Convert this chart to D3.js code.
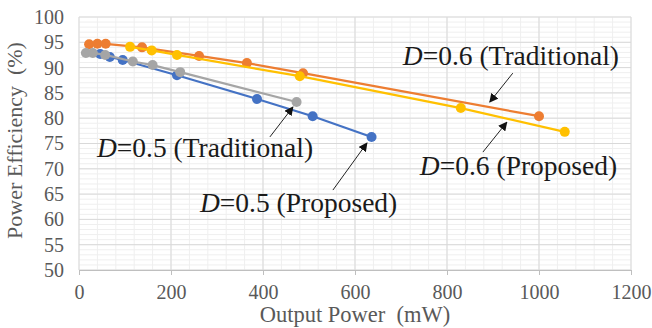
<!DOCTYPE html>
<html>
<head>
<meta charset="utf-8">
<script src="https://cdn.jsdelivr.net/npm/d3@7"></script>
<style>
  body { margin: 0; background: #fff; }
  svg { display: block; font-family: "Liberation Serif", "Times New Roman", serif; }
</style>
</head>
<body>
<div id="chart"></div>
<script>
// data
const trad06X = [22, 40, 58, 137, 261, 365, 487, 1000];
const trad06Y = [94.6, 94.7, 94.7, 94.0, 92.3, 90.9, 88.9, 80.4];
const prop06X = [111, 158, 213, 480, 830, 1056];
const prop06Y = [94.1, 93.4, 92.5, 88.3, 82.0, 77.3];
const trad05X = [15, 30, 57, 117, 160, 220, 473];
const trad05Y = [92.9, 92.9, 92.5, 91.2, 90.5, 89.1, 83.2];
const prop05X = [46, 67, 95, 213, 387, 508, 636];
const prop05Y = [92.7, 92.1, 91.5, 88.5, 83.8, 80.4, 76.3];

const xTicks = [0, 200, 400, 600, 800, 1000, 1200];
const yTicks = [50, 55, 60, 65, 70, 75, 80, 85, 90, 95, 100];

const seriesList = [
  { name: "D=0.5 (Proposed)", xs: prop05X, ys: prop05Y, color: "#4472c4" },
  { name: "D=0.6 (Traditional)", xs: trad06X, ys: trad06Y, color: "#ed7d31" },
  { name: "D=0.5 (Traditional)", xs: trad05X, ys: trad05Y, color: "#a5a5a5" },
  { name: "D=0.6 (Proposed)", xs: prop06X, ys: prop06Y, color: "#ffc000" }
];

// annotation labels: [D value, tag, text x, text y, arrow from x,y, arrow to x,y] in data units
const notes = [
  ["0.6", "Traditional", 704, 90.5, 943, 88.9, 893, 83.2],
  ["0.5", "Traditional", 39, 72.3, 415, 76.3, 465, 82.2],
  ["0.5", "Proposed", 263, 61.5, 552, 65.8, 626, 75.1],
  ["0.6", "Proposed", 741, 68.8, 878, 73.3, 930, 79.2]
];

const width = 652, height = 328;
const margin = { top: 17, right: 21, bottom: 58, left: 79 };

const svg = d3.select("#chart").append("svg")
  .attr("width", width)
  .attr("height", height);

const x = d3.scaleLinear().domain([0, 1200]).range([margin.left, width - margin.right]);
const y = d3.scaleLinear().domain([50, 100]).range([height - margin.bottom, margin.top]);

// minor grid
svg.append("g").selectAll("line")
  .data(d3.range(0, 1201, 40))
  .enter().append("line")
  .attr("x1", d => x(d)).attr("x2", d => x(d))
  .attr("y1", y(50)).attr("y2", y(100))
  .attr("stroke", "#efefef").attr("stroke-width", 1);
svg.append("g").selectAll("line")
  .data(d3.range(50, 100.1, 1))
  .enter().append("line")
  .attr("x1", x(0)).attr("x2", x(1200))
  .attr("y1", d => y(d)).attr("y2", d => y(d))
  .attr("stroke", "#efefef").attr("stroke-width", 1);

// major grid
svg.append("g").selectAll("line")
  .data(xTicks)
  .enter().append("line")
  .attr("x1", d => x(d)).attr("x2", d => x(d))
  .attr("y1", y(50)).attr("y2", y(100))
  .attr("stroke", "#d9d9d9").attr("stroke-width", 1);
svg.append("g").selectAll("line")
  .data(yTicks)
  .enter().append("line")
  .attr("x1", x(0)).attr("x2", x(1200))
  .attr("y1", d => y(d)).attr("y2", d => y(d))
  .attr("stroke", "#d9d9d9").attr("stroke-width", 1);

// axes
const xAxis = svg.append("g")
  .attr("transform", `translate(0,${y(50)})`)
  .call(d3.axisBottom(x).tickValues(xTicks).tickFormat(d3.format("d")).tickSize(5).tickPadding(10));
const yAxis = svg.append("g")
  .attr("transform", `translate(${x(0)},0)`)
  .call(d3.axisLeft(y).tickValues(yTicks).tickFormat(d3.format("d")).tickSize(0).tickPadding(15));
[xAxis, yAxis].forEach(a => {
  a.attr("font-family", "'Liberation Serif', serif").attr("font-size", 20);
  a.select(".domain").attr("stroke", "#bfbfbf");
  a.selectAll(".tick line").attr("stroke", "#bfbfbf");
  a.selectAll("text").attr("fill", "#595959");
});
yAxis.select(".domain").remove();

// axis titles
svg.append("text")
  .attr("x", x(600))
  .attr("y", height - 6)
  .attr("text-anchor", "middle")
  .attr("font-size", 22.5)
  .attr("fill", "#595959")
  .attr("xml:space", "preserve")
  .text("Output Power  (mW)");
svg.append("text")
  .attr("transform", `translate(22,${(y(50) + y(100)) / 2 - 3}) rotate(-90)`)
  .attr("text-anchor", "middle")
  .attr("font-size", 22)
  .attr("fill", "#595959")
  .attr("xml:space", "preserve")
  .text("Power Efficiency  (%)");

// series
const line = d3.line().x(d => x(d[0])).y(d => y(d[1]));
seriesList.forEach(s => {
  const pts = s.xs.map((v, i) => [v, s.ys[i]]);
  const g = svg.append("g");
  g.append("path")
    .datum(pts)
    .attr("d", line)
    .attr("fill", "none")
    .attr("stroke", s.color)
    .attr("stroke-width", 2.2);
  g.selectAll("circle")
    .data(pts)
    .enter().append("circle")
    .attr("cx", d => x(d[0]))
    .attr("cy", d => y(d[1]))
    .attr("r", 5)
    .attr("fill", s.color);
});

// arrows
svg.append("defs").append("marker")
  .attr("id", "head")
  .attr("viewBox", "0 0 10 10")
  .attr("refX", 9).attr("refY", 5)
  .attr("markerWidth", 9).attr("markerHeight", 9)
  .attr("markerUnits", "userSpaceOnUse")
  .attr("orient", "auto")
  .append("path")
  .attr("d", "M0,0 L10,5 L0,10 Z")
  .attr("fill", "#111");

svg.append("g").selectAll("line")
  .data(notes)
  .enter().append("line")
  .attr("x1", d => x(d[4])).attr("y1", d => y(d[5]))
  .attr("x2", d => x(d[6])).attr("y2", d => y(d[7]))
  .attr("stroke", "#222")
  .attr("stroke-width", 1)
  .attr("marker-end", "url(#head)");

// labels
const labels = svg.append("g").selectAll("text")
  .data(notes)
  .enter().append("text")
  .attr("x", d => x(d[2]))
  .attr("y", d => y(d[3]))
  .attr("font-size", 27.5)
  .attr("fill", "#1a1a1a");
labels.append("tspan").attr("font-style", "italic").text("D");
labels.append("tspan").text(d => `=${d[0]} (${d[1]})`);
</script>
</body>
</html>
